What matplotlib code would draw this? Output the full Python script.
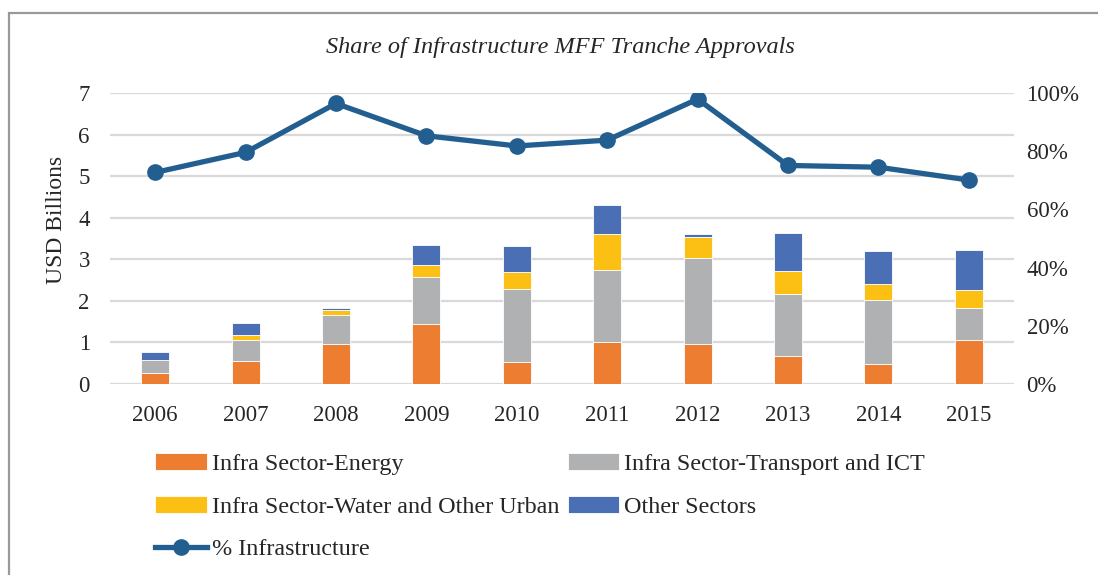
import matplotlib
matplotlib.use("Agg")
import matplotlib.pyplot as plt
from matplotlib.lines import Line2D
import numpy as np

plt.rcParams['font.family'] = ['Liberation Serif', 'DejaVu Serif']

years = ['2006', '2007', '2008', '2009', '2010', '2011', '2012', '2013', '2014', '2015']
energy = [0.26, 0.55, 0.96, 1.44, 0.54, 1.02, 0.96, 0.68, 0.49, 1.07]
transport = [0.32, 0.51, 0.70, 1.13, 1.74, 1.73, 2.06, 1.48, 1.53, 0.76]
water = [0.00, 0.11, 0.11, 0.29, 0.42, 0.85, 0.52, 0.57, 0.38, 0.44]
other = [0.20, 0.30, 0.06, 0.49, 0.61, 0.70, 0.06, 0.90, 0.81, 0.96]
pct_infra = [72.7, 79.6, 96.4, 85.3, 81.8, 83.8, 97.9, 75.1, 74.5, 70.1]

series = [
    ('Infra Sector-Energy', energy, '#ED7D31'),
    ('Infra Sector-Transport and ICT', transport, '#B0B1B2'),
    ('Infra Sector-Water and Other Urban', water, '#FCBF14'),
    ('Other Sectors', other, '#4A6FB5'),
]
line_color = '#235E91'
text_color = '#262626'

fig = plt.figure(figsize=(10.98, 5.75), dpi=100)
ax = fig.add_axes([110 / 1098, 1 - 384 / 575, 904 / 1098, 291 / 575])
ax2 = ax.twinx()

x = np.arange(len(years))
bottom = np.zeros(len(years))
for name, vals, col in series:
    ax.bar(x, vals, width=0.31, bottom=bottom, color=col, edgecolor='white',
           linewidth=0.6, label=name, zorder=3)
    bottom += np.array(vals)

ax2.plot(x, pct_infra, color=line_color, linewidth=3.8, marker='o',
         markersize=11, zorder=4, label='% Infrastructure')

ax.set_xlim(-0.5, len(years) - 0.5)
ax.set_ylim(0, 7)
ax2.set_ylim(0, 100)
ax.set_yticks(range(0, 8))
ax2.set_yticks(range(0, 101, 20))
ax2.set_yticklabels([f'{v}%' for v in range(0, 101, 20)])
ax.set_xticks(x)
ax.set_xticklabels(years)
ax.grid(axis='y', color='#D9D9D9', linewidth=1.6, zorder=0)
ax.set_axisbelow(True)

for a in (ax, ax2):
    for s in a.spines.values():
        s.set_visible(False)
    a.tick_params(length=0, labelsize=16.5, colors=text_color)
ax.tick_params(axis='y', pad=14.5)
ax.tick_params(axis='x', pad=15)
ax2.tick_params(axis='y', pad=9)
ax.set_zorder(ax2.get_zorder() - 1)
ax2.patch.set_visible(False)

fig.text(56 / 1098, 1 - 220 / 575, 'USD Billions', rotation=90, ha='center',
         va='center', fontsize=17, color=text_color)
fig.text(560 / 1098, 1 - 47 / 575, 'Share of Infrastructure MFF Tranche Approvals',
         ha='center', va='center', fontsize=17.5, style='italic', color=text_color)

# legend
handles, labels = ax.get_legend_handles_labels()
line_handle = Line2D([], [], color=line_color, linewidth=3.8, marker='o', markersize=11)
order_h = [handles[0], handles[2], line_handle, handles[1], handles[3]]
order_l = [labels[0], labels[2], '% Infrastructure', labels[1], labels[3]]
fig.legend(order_h, order_l, ncol=2, loc='upper left',
           bbox_to_anchor=(155 / 1098, 1 - 453 / 575), frameon=False,
           fontsize=17.4, handlelength=2.15, handletextpad=0.2, columnspacing=0.34,
           labelspacing=0.86, borderaxespad=0, borderpad=0, labelcolor=text_color)

# chart frame
fig.add_artist(plt.Rectangle((9 / 1098, -0.1), 1.2, 1 - 12.5 / 575 + 0.1,
                             transform=fig.transFigure, fill=False,
                             edgecolor='#999999', linewidth=1.6))

fig.savefig('out.png', dpi=100)
